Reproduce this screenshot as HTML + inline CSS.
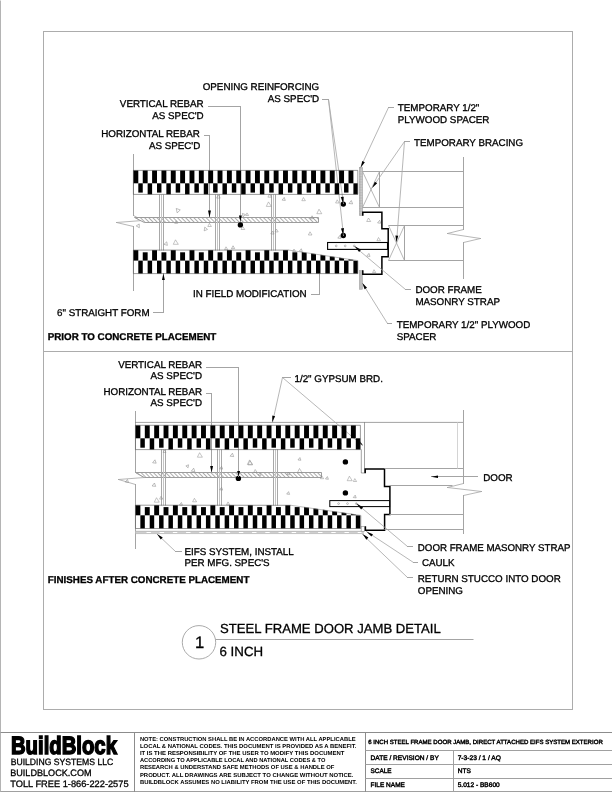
<!DOCTYPE html>
<html lang="en">
<head>
<meta charset="utf-8">
<title>Steel Frame Door Jamb Detail - 6 Inch</title>
<style>
html,body{margin:0;padding:0;background:#fff;}
body{width:612px;height:792px;overflow:hidden;}
svg{display:block;font-family:"Liberation Sans",Arial,Helvetica,sans-serif;fill:#000;}
svg text{fill:#000;stroke:#000;stroke-width:0.3px;text-rendering:geometricPrecision;}
</style>
</head>
<body>
<svg width="612" height="792" viewBox="0 0 612 792" style="filter:grayscale(1)">
<defs>
<pattern id="hatch" width="2.9" height="2.9" patternUnits="userSpaceOnUse" patternTransform="rotate(-45)">
<rect width="2.9" height="2.9" fill="#fff"/>
<line x1="0.5" y1="0" x2="0.5" y2="2.9" stroke="#999" stroke-width="0.8"/>
</pattern>
<pattern id="ply" width="1.6" height="1.6" patternUnits="userSpaceOnUse">
<rect width="1.6" height="1.6" fill="#d4d4d4"/>
<path d="M0 0H1.6M0 0V1.6" stroke="#999" stroke-width="0.5"/>
</pattern>

<clipPath id="tapU"><polygon points="133,249 288.8,249.9 358,260.4 358,274 133,274"/></clipPath>
<clipPath id="tapL"><polygon points="135,504 291,505.0 361,515.2 361,529 135,529"/></clipPath>
</defs>
<rect x="0" y="0" width="612" height="792" fill="#fff"/>
<line x1="0.50" y1="0.50" x2="0.50" y2="792.50" stroke="#b4b4b4" stroke-width="1.0" />
<g stroke-linecap="square">
<line x1="43.50" y1="31.50" x2="572.50" y2="31.50" stroke="#acacac" stroke-width="1.0" />
<line x1="572.50" y1="31.50" x2="572.50" y2="709.50" stroke="#acacac" stroke-width="1.0" />
<line x1="572.50" y1="709.50" x2="43.50" y2="709.50" stroke="#acacac" stroke-width="1.0" />
<line x1="43.50" y1="709.50" x2="43.50" y2="31.50" stroke="#acacac" stroke-width="1.0" />
</g>
<line x1="43.50" y1="351.50" x2="572.50" y2="351.50" stroke="#acacac" stroke-width="1.0" />
<line x1="0.50" y1="732.50" x2="612.50" y2="732.50" stroke="#8c8c8c" stroke-width="1.0" />
<line x1="0.50" y1="791.50" x2="612.50" y2="791.50" stroke="#a0a0a0" stroke-width="1.0" />
<line x1="134.50" y1="732.50" x2="134.50" y2="792.50" stroke="#8c8c8c" stroke-width="1.0" />
<line x1="365.50" y1="732.50" x2="365.50" y2="792.50" stroke="#8c8c8c" stroke-width="1.0" />
<line x1="365.50" y1="750.50" x2="612.50" y2="750.50" stroke="#a0a0a0" stroke-width="1.0" />
<line x1="365.50" y1="764.50" x2="612.50" y2="764.50" stroke="#a0a0a0" stroke-width="1.0" />
<line x1="365.50" y1="778.50" x2="612.50" y2="778.50" stroke="#a0a0a0" stroke-width="1.0" />
<line x1="453.50" y1="750.50" x2="453.50" y2="792.50" stroke="#a0a0a0" stroke-width="1.0" />
<text x="10.95" y="754.45" font-size="25" font-weight="bold" textLength="106.0" lengthAdjust="spacingAndGlyphs" style="fill:#000;stroke:#000;stroke-width:1.5px;stroke-linejoin:miter">BuildBlock</text>
<text x="10.70" y="764.80" font-size="9.2" text-anchor="start" font-weight="normal" textLength="102.60" lengthAdjust="spacingAndGlyphs" >BUILDING SYSTEMS LLC</text>
<text x="10.20" y="776.00" font-size="9.3" text-anchor="start" font-weight="normal" textLength="81.40" lengthAdjust="spacingAndGlyphs" >BUILDBLOCK.COM</text>
<text x="10.20" y="787.00" font-size="9.4" text-anchor="start" font-weight="normal" textLength="118.40" lengthAdjust="spacingAndGlyphs" >TOLL FREE 1-866-222-2575</text>
<text x="139.90" y="741.00" font-size="5.7" text-anchor="start" font-weight="bold" textLength="215.70" lengthAdjust="spacingAndGlyphs" style="stroke:none">NOTE: CONSTRUCTION SHALL BE IN ACCORDANCE WITH ALL APPLICABLE</text>
<text x="139.90" y="748.00" font-size="5.7" text-anchor="start" font-weight="bold" textLength="216.50" lengthAdjust="spacingAndGlyphs" style="stroke:none">LOCAL &amp; NATIONAL CODES. THIS DOCUMENT IS PROVIDED AS A BENEFIT.</text>
<text x="139.90" y="755.00" font-size="5.7" text-anchor="start" font-weight="bold" textLength="204.50" lengthAdjust="spacingAndGlyphs" style="stroke:none">IT IS THE RESPONSIBILITY OF THE USER TO MODIFY THIS DOCUMENT</text>
<text x="139.90" y="762.00" font-size="5.7" text-anchor="start" font-weight="bold" textLength="185.50" lengthAdjust="spacingAndGlyphs" style="stroke:none">ACCORDING TO APPLICABLE LOCAL AND NATIONAL CODES &amp; TO</text>
<text x="139.90" y="769.00" font-size="5.7" text-anchor="start" font-weight="bold" textLength="194.50" lengthAdjust="spacingAndGlyphs" style="stroke:none">RESEARCH &amp; UNDERSTAND SAFE METHODS OF USE &amp; HANDLE OF</text>
<text x="139.90" y="777.00" font-size="5.7" text-anchor="start" font-weight="bold" textLength="213.50" lengthAdjust="spacingAndGlyphs" style="stroke:none">PRODUCT. ALL DRAWINGS ARE SUBJECT TO CHANGE WITHOUT NOTICE.</text>
<text x="139.90" y="784.00" font-size="5.7" text-anchor="start" font-weight="bold" textLength="217.00" lengthAdjust="spacingAndGlyphs" style="stroke:none">BUILDBLOCK ASSUMES NO LIABILITY FROM THE USE OF THIS DOCUMENT.</text>
<text x="368.20" y="744.30" font-size="6.05" text-anchor="start" font-weight="normal" textLength="234.60" lengthAdjust="spacingAndGlyphs" style="stroke-width:0.42px">6 INCH STEEL FRAME DOOR JAMB, DIRECT ATTACHED EIFS SYSTEM EXTERIOR</text>
<text x="370.60" y="759.50" font-size="6.55" text-anchor="start" font-weight="normal" textLength="68.20" lengthAdjust="spacingAndGlyphs" style="stroke-width:0.42px">DATE / REVISION / BY</text>
<text x="370.60" y="773.00" font-size="6.55" text-anchor="start" font-weight="normal" textLength="21.00" lengthAdjust="spacingAndGlyphs" style="stroke-width:0.42px">SCALE</text>
<text x="370.60" y="787.00" font-size="6.55" text-anchor="start" font-weight="normal" textLength="34.30" lengthAdjust="spacingAndGlyphs" style="stroke-width:0.42px">FILE NAME</text>
<text x="457.70" y="759.50" font-size="6.55" text-anchor="start" font-weight="normal" textLength="43.10" lengthAdjust="spacingAndGlyphs" style="stroke-width:0.42px">7-3-23 / 1 / AQ</text>
<text x="457.70" y="773.00" font-size="6.55" text-anchor="start" font-weight="normal" textLength="13.10" lengthAdjust="spacingAndGlyphs" style="stroke-width:0.42px">NTS</text>
<text x="457.70" y="787.00" font-size="6.55" text-anchor="start" font-weight="normal" textLength="42.00" lengthAdjust="spacingAndGlyphs" style="stroke-width:0.42px">5.012 - BB600</text>
<circle cx="199.0" cy="642.3" r="16.7" fill="none" stroke="#a0a0a0" stroke-width="0.9"/>
<text x="199.60" y="647.70" font-size="16.6" text-anchor="middle" font-weight="normal" >1</text>
<text x="220.00" y="632.60" font-size="13.2" text-anchor="start" font-weight="normal" textLength="220.80" lengthAdjust="spacingAndGlyphs" >STEEL FRAME DOOR JAMB DETAIL</text>
<line x1="215.50" y1="639.50" x2="473.50" y2="639.50" stroke="#a4a4a4" stroke-width="1.0" />
<text x="219.50" y="655.50" font-size="13.3" text-anchor="start" font-weight="normal" >6 INCH</text>
<g stroke-linecap="square">
<line x1="133.50" y1="154.50" x2="133.50" y2="215.50" stroke="#a4a4a4" stroke-width="1.0" />
<line x1="133.50" y1="215.50" x2="142.50" y2="220.50" stroke="#a4a4a4" stroke-width="0.8" />
<line x1="142.50" y1="220.50" x2="116.50" y2="222.50" stroke="#a4a4a4" stroke-width="0.8" />
<line x1="116.50" y1="222.50" x2="133.50" y2="226.50" stroke="#a4a4a4" stroke-width="0.8" />
<line x1="133.50" y1="226.50" x2="133.50" y2="290.50" stroke="#a4a4a4" stroke-width="1.0" />
</g>
<polygon points="134.5,217.5 318.5,217.5 318.5,222.5 144.3,222.5" fill="url(#hatch)" stroke="#9c9c9c" stroke-width="1"/>
<line x1="159.50" y1="194.50" x2="159.50" y2="250.50" stroke="#a8a8a8" stroke-width="1.0" />
<line x1="161.50" y1="194.50" x2="161.50" y2="250.50" stroke="#c4c4c4" stroke-width="1.0" />
<line x1="163.50" y1="194.50" x2="163.50" y2="250.50" stroke="#a8a8a8" stroke-width="1.0" />
<line x1="215.50" y1="194.50" x2="215.50" y2="250.50" stroke="#a8a8a8" stroke-width="1.0" />
<line x1="217.50" y1="194.50" x2="217.50" y2="250.50" stroke="#c4c4c4" stroke-width="1.0" />
<line x1="219.50" y1="194.50" x2="219.50" y2="250.50" stroke="#a8a8a8" stroke-width="1.0" />
<line x1="271.50" y1="194.50" x2="271.50" y2="250.50" stroke="#a8a8a8" stroke-width="1.0" />
<line x1="273.50" y1="194.50" x2="273.50" y2="250.50" stroke="#c4c4c4" stroke-width="1.0" />
<line x1="275.50" y1="194.50" x2="275.50" y2="250.50" stroke="#a8a8a8" stroke-width="1.0" />
<circle cx="240.4" cy="224.9" r="2.7" fill="#000"/>
<circle cx="343.3" cy="204.1" r="2.7" fill="#000"/>
<circle cx="343.3" cy="235.5" r="2.7" fill="#000"/>
<rect x="359.2" y="167.4" width="3.4" height="48.2" fill="url(#ply)" stroke="#888" stroke-width="0.4"/>
<rect x="359.2" y="270.4" width="3.4" height="19.0" fill="#bdbdbd" stroke="#999" stroke-width="0.4"/>
<line x1="362.50" y1="171.50" x2="463.50" y2="171.50" stroke="#a4a4a4" stroke-width="1.0" />
<line x1="362.50" y1="207.50" x2="463.50" y2="207.50" stroke="#a4a4a4" stroke-width="1.0" />
<line x1="379.50" y1="171.50" x2="379.50" y2="207.50" stroke="#a4a4a4" stroke-width="1.0" />
<line x1="362.50" y1="171.50" x2="379.50" y2="207.50" stroke="#a4a4a4" stroke-width="0.8" />
<line x1="379.50" y1="171.50" x2="362.50" y2="207.50" stroke="#a4a4a4" stroke-width="0.8" />
<line x1="388.50" y1="225.50" x2="463.50" y2="225.50" stroke="#a4a4a4" stroke-width="1.0" />
<line x1="388.50" y1="260.50" x2="463.50" y2="260.50" stroke="#a4a4a4" stroke-width="1.0" />
<line x1="404.50" y1="225.50" x2="404.50" y2="260.50" stroke="#a4a4a4" stroke-width="1.0" />
<line x1="388.50" y1="225.50" x2="404.50" y2="260.50" stroke="#a4a4a4" stroke-width="0.8" />
<line x1="404.50" y1="225.50" x2="388.50" y2="260.50" stroke="#a4a4a4" stroke-width="0.8" />
<g stroke-linecap="square">
<line x1="463.50" y1="157.50" x2="463.50" y2="229.50" stroke="#a4a4a4" stroke-width="1.0" />
<line x1="463.50" y1="229.50" x2="447.50" y2="233.50" stroke="#a4a4a4" stroke-width="0.8" />
<line x1="447.50" y1="233.50" x2="480.50" y2="238.50" stroke="#a4a4a4" stroke-width="0.8" />
<line x1="480.50" y1="238.50" x2="463.50" y2="242.50" stroke="#a4a4a4" stroke-width="0.8" />
<line x1="463.50" y1="242.50" x2="463.50" y2="278.50" stroke="#a4a4a4" stroke-width="1.0" />
</g>
<polyline points="362.80,215.80 362.80,212.20 381.90,212.20 381.90,228.80 388.20,228.80 388.20,256.80 381.90,256.80 381.90,274.30 362.80,274.30 362.80,270.30" fill="none" stroke="#000" stroke-width="1.5" stroke-linejoin="miter"/>
<rect x="327.6" y="242.5" width="59.9" height="6.9" fill="#fff" stroke="#000" stroke-width="1.1"/>
<circle cx="336.2" cy="245.9" r="0.9" fill="none" stroke="#666" stroke-width="0.4"/>
<circle cx="345.2" cy="245.9" r="0.9" fill="none" stroke="#666" stroke-width="0.4"/>
<circle cx="354.2" cy="245.9" r="0.9" fill="none" stroke="#666" stroke-width="0.4"/>
<text x="203.70" y="107.00" font-size="9.8" text-anchor="end" font-weight="normal" >VERTICAL REBAR</text>
<text x="203.70" y="119.00" font-size="9.8" text-anchor="end" font-weight="normal" >AS SPEC'D</text>
<text x="199.80" y="136.50" font-size="9.8" text-anchor="end" font-weight="normal" >HORIZONTAL REBAR</text>
<text x="200.30" y="148.70" font-size="9.8" text-anchor="end" font-weight="normal" >AS SPEC'D</text>
<text x="319.20" y="89.60" font-size="9.8" text-anchor="end" font-weight="normal" >OPENING REINFORCING</text>
<text x="319.20" y="101.90" font-size="9.8" text-anchor="end" font-weight="normal" >AS SPEC'D</text>
<text x="397.80" y="111.40" font-size="9.8" text-anchor="start" font-weight="normal" >TEMPORARY 1/2"</text>
<text x="397.80" y="123.20" font-size="9.8" text-anchor="start" font-weight="normal" >PLYWOOD SPACER</text>
<text x="414.00" y="146.20" font-size="9.8" text-anchor="start" font-weight="normal" >TEMPORARY BRACING</text>
<text x="415.40" y="292.80" font-size="9.8" text-anchor="start" font-weight="normal" >DOOR FRAME</text>
<text x="415.40" y="304.90" font-size="9.8" text-anchor="start" font-weight="normal" >MASONRY STRAP</text>
<text x="396.70" y="327.70" font-size="9.8" text-anchor="start" font-weight="normal" >TEMPORARY 1/2" PLYWOOD</text>
<text x="396.70" y="339.50" font-size="9.8" text-anchor="start" font-weight="normal" >SPACER</text>
<text x="193.00" y="297.40" font-size="9.8" text-anchor="start" font-weight="normal" >IN FIELD MODIFICATION</text>
<text x="57.00" y="316.20" font-size="9.8" text-anchor="start" font-weight="normal" >6" STRAIGHT FORM</text>
<text x="47.70" y="339.90" font-size="9.8" text-anchor="start" font-weight="bold" >PRIOR TO CONCRETE PLACEMENT</text>
<g stroke-linecap="square">
<line x1="208.50" y1="106.50" x2="240.50" y2="106.50" stroke="#a4a4a4" stroke-width="1.0" />
<line x1="240.50" y1="106.50" x2="240.50" y2="221.50" stroke="#a4a4a4" stroke-width="1.0" />
</g>
<polygon points="240.40,221.50 238.95,215.50 241.85,215.50" fill="#000"/>
<g stroke-linecap="square">
<line x1="204.50" y1="135.50" x2="209.50" y2="135.50" stroke="#a4a4a4" stroke-width="1.0" />
<line x1="209.50" y1="135.50" x2="209.50" y2="217.50" stroke="#a4a4a4" stroke-width="1.0" />
</g>
<polygon points="209.50,217.40 208.05,210.60 210.95,210.60" fill="#000"/>
<g stroke-linecap="square">
<line x1="322.50" y1="99.50" x2="328.50" y2="99.50" stroke="#a4a4a4" stroke-width="1.0" />
</g>
<g stroke-linecap="square">
<line x1="328.50" y1="99.50" x2="343.50" y2="203.50" stroke="#a4a4a4" stroke-width="0.8" />
</g>
<polygon points="343.20,203.80 340.76,197.07 343.74,196.66" fill="#000"/>
<g stroke-linecap="square">
<line x1="328.50" y1="99.50" x2="343.50" y2="235.50" stroke="#a4a4a4" stroke-width="0.8" />
</g>
<polygon points="343.20,235.20 340.98,228.40 343.96,228.08" fill="#000"/>
<g stroke-linecap="square">
<line x1="393.50" y1="107.50" x2="388.50" y2="107.50" stroke="#a4a4a4" stroke-width="1.0" />
<line x1="388.50" y1="107.50" x2="360.50" y2="167.50" stroke="#a4a4a4" stroke-width="0.8" />
</g>
<polygon points="360.80,167.50 362.23,161.00 364.86,162.22" fill="#000"/>
<g stroke-linecap="square">
<line x1="409.50" y1="141.50" x2="404.50" y2="141.50" stroke="#a4a4a4" stroke-width="1.0" />
</g>
<g stroke-linecap="square">
<line x1="404.50" y1="141.50" x2="372.50" y2="187.50" stroke="#a4a4a4" stroke-width="0.8" />
</g>
<polygon points="372.30,187.80 374.82,181.63 377.20,183.29" fill="#000"/>
<g stroke-linecap="square">
<line x1="404.50" y1="141.50" x2="396.50" y2="242.50" stroke="#a4a4a4" stroke-width="0.8" />
</g>
<polygon points="396.30,242.00 395.40,235.40 398.29,235.64" fill="#000"/>
<g stroke-linecap="square">
<line x1="410.50" y1="289.50" x2="405.50" y2="289.50" stroke="#a4a4a4" stroke-width="1.0" />
<line x1="405.50" y1="289.50" x2="354.50" y2="246.50" stroke="#a4a4a4" stroke-width="0.8" />
</g>
<polygon points="354.40,246.00 361.08,249.72 359.14,252.00" fill="#000"/>
<g stroke-linecap="square">
<line x1="391.50" y1="323.50" x2="387.50" y2="323.50" stroke="#a4a4a4" stroke-width="1.0" />
<line x1="387.50" y1="323.50" x2="362.50" y2="283.50" stroke="#a4a4a4" stroke-width="0.8" />
</g>
<polygon points="362.40,283.00 367.03,287.79 364.56,289.30" fill="#000"/>
<g stroke-linecap="square">
<line x1="311.50" y1="294.50" x2="319.50" y2="294.50" stroke="#a4a4a4" stroke-width="1.0" />
<line x1="319.50" y1="294.50" x2="319.50" y2="273.50" stroke="#a4a4a4" stroke-width="1.0" />
</g>
<g stroke-linecap="square">
<line x1="153.50" y1="312.50" x2="163.50" y2="312.50" stroke="#a4a4a4" stroke-width="1.0" />
<line x1="163.50" y1="312.50" x2="163.50" y2="273.50" stroke="#a4a4a4" stroke-width="1.0" />
</g>
<polygon points="163.40,273.60 164.85,280.10 161.95,280.10" fill="#000"/>
<polygon points="0,-2.4 2.4,1.4 -1.9,1.4" fill="none" stroke="#8a8a8a" stroke-width="0.5" transform="translate(178.0,210.6) rotate(200)"/>
<polygon points="0,-2.0 2.0,1.2 -1.6,1.2" fill="none" stroke="#8a8a8a" stroke-width="0.5" transform="translate(138.2,225.7) rotate(30)"/>
<polygon points="0,-1.6 1.6,1.0 -1.3,1.0" fill="none" stroke="#8a8a8a" stroke-width="0.5" transform="translate(176.0,222.4) rotate(0)"/>
<polygon points="0,-2.0 2.0,1.2 -1.6,1.2" fill="none" stroke="#8a8a8a" stroke-width="0.5" transform="translate(209.4,225.3) rotate(0)"/>
<polygon points="0,-2.0 2.0,1.2 -1.6,1.2" fill="none" stroke="#8a8a8a" stroke-width="0.5" transform="translate(205.5,229.3) rotate(220)"/>
<polygon points="0,-2.8 2.8,1.7 -2.2,1.7" fill="none" stroke="#8a8a8a" stroke-width="0.5" transform="translate(175.5,242.6) rotate(0)"/>
<polygon points="0,-2.0 2.0,1.2 -1.6,1.2" fill="none" stroke="#8a8a8a" stroke-width="0.5" transform="translate(165.9,244.0) rotate(260)"/>
<polygon points="0,-2.0 2.0,1.2 -1.6,1.2" fill="none" stroke="#8a8a8a" stroke-width="0.5" transform="translate(218.2,196.9) rotate(0)"/>
<polygon points="0,-2.0 2.0,1.2 -1.6,1.2" fill="none" stroke="#8a8a8a" stroke-width="0.5" transform="translate(242.7,228.3) rotate(0)"/>
<polygon points="0,-1.8 1.8,1.1 -1.4,1.1" fill="none" stroke="#8a8a8a" stroke-width="0.5" transform="translate(243.7,215.1) rotate(200)"/>
<polygon points="0,-1.8 1.8,1.1 -1.4,1.1" fill="none" stroke="#8a8a8a" stroke-width="0.5" transform="translate(226.0,248.6) rotate(0)"/>
<polygon points="0,-1.8 1.8,1.1 -1.4,1.1" fill="none" stroke="#8a8a8a" stroke-width="0.5" transform="translate(233.0,247.9) rotate(240)"/>
<polygon points="0,-2.0 2.0,1.2 -1.6,1.2" fill="none" stroke="#8a8a8a" stroke-width="0.5" transform="translate(269.5,196.0) rotate(0)"/>
<polygon points="0,-2.8 2.8,1.7 -2.2,1.7" fill="none" stroke="#8a8a8a" stroke-width="0.5" transform="translate(268.5,204.7) rotate(0)"/>
<polygon points="0,-1.8 1.8,1.1 -1.4,1.1" fill="none" stroke="#8a8a8a" stroke-width="0.5" transform="translate(283.8,199.5) rotate(250)"/>
<polygon points="0,-2.0 2.0,1.2 -1.6,1.2" fill="none" stroke="#8a8a8a" stroke-width="0.5" transform="translate(303.4,199.5) rotate(0)"/>
<polygon points="0,-2.8 2.8,1.7 -2.2,1.7" fill="none" stroke="#8a8a8a" stroke-width="0.5" transform="translate(319.0,212.0) rotate(0)"/>
<polygon points="0,-1.8 1.8,1.1 -1.4,1.1" fill="none" stroke="#8a8a8a" stroke-width="0.5" transform="translate(312.0,217.9) rotate(240)"/>
<polygon points="0,-2.0 2.0,1.2 -1.6,1.2" fill="none" stroke="#8a8a8a" stroke-width="0.5" transform="translate(310.0,233.8) rotate(0)"/>
<polygon points="0,-1.8 1.8,1.1 -1.4,1.1" fill="none" stroke="#8a8a8a" stroke-width="0.5" transform="translate(276.4,230.8) rotate(0)"/>
<polygon points="0,-1.8 1.8,1.1 -1.4,1.1" fill="none" stroke="#8a8a8a" stroke-width="0.5" transform="translate(272.5,233.2) rotate(250)"/>
<polygon points="0,-2.0 2.0,1.2 -1.6,1.2" fill="none" stroke="#8a8a8a" stroke-width="0.5" transform="translate(337.2,201.8) rotate(0)"/>
<polygon points="0,-2.0 2.0,1.2 -1.6,1.2" fill="none" stroke="#8a8a8a" stroke-width="0.5" transform="translate(350.9,202.8) rotate(250)"/>
<polygon points="0,-1.8 1.8,1.1 -1.4,1.1" fill="none" stroke="#8a8a8a" stroke-width="0.5" transform="translate(339.5,237.5) rotate(250)"/>
<polygon points="0,-1.6 1.6,1.0 -1.3,1.0" fill="none" stroke="#8a8a8a" stroke-width="0.5" transform="translate(247.0,214.5) rotate(0)"/>
<polygon points="0,-1.6 1.6,1.0 -1.3,1.0" fill="none" stroke="#8a8a8a" stroke-width="0.5" transform="translate(294.0,250.6) rotate(0)"/>
<polygon points="0,-1.6 1.6,1.0 -1.3,1.0" fill="none" stroke="#8a8a8a" stroke-width="0.5" transform="translate(300.9,250.6) rotate(250)"/>
<polygon points="0,-2.2 2.2,1.3 -1.8,1.3" fill="none" stroke="#8a8a8a" stroke-width="0.5" transform="translate(368.5,220.2) rotate(0)"/>
<polygon points="0,-1.8 1.8,1.1 -1.4,1.1" fill="none" stroke="#8a8a8a" stroke-width="0.5" transform="translate(379.3,222.3) rotate(250)"/>
<polygon points="0,-2.0 2.0,1.2 -1.6,1.2" fill="none" stroke="#8a8a8a" stroke-width="0.5" transform="translate(378.5,239.5) rotate(0)"/>
<polygon points="0,-1.8 1.8,1.1 -1.4,1.1" fill="none" stroke="#8a8a8a" stroke-width="0.5" transform="translate(368.5,255.5) rotate(250)"/>
<polygon points="0,-1.8 1.8,1.1 -1.4,1.1" fill="none" stroke="#8a8a8a" stroke-width="0.5" transform="translate(374.0,271.5) rotate(0)"/>
<g stroke-linecap="square">
<line x1="135.50" y1="411.50" x2="135.50" y2="472.50" stroke="#a4a4a4" stroke-width="1.0" />
<line x1="135.50" y1="472.50" x2="144.50" y2="477.50" stroke="#a4a4a4" stroke-width="0.8" />
<line x1="144.50" y1="477.50" x2="118.50" y2="479.50" stroke="#a4a4a4" stroke-width="0.8" />
<line x1="118.50" y1="479.50" x2="135.50" y2="484.50" stroke="#a4a4a4" stroke-width="0.8" />
<line x1="135.50" y1="484.50" x2="135.50" y2="548.50" stroke="#a4a4a4" stroke-width="1.0" />
</g>
<polyline points="135.45,422.40 463.40,422.40" fill="none" stroke="#444" stroke-width="0.5" />
<polyline points="364.50,422.40 364.50,473.00" fill="none" stroke="#444" stroke-width="0.5" />
<polyline points="361.30,449.30 361.30,473.00 364.50,473.00" fill="none" stroke="#444" stroke-width="0.5" />
<polygon points="135.5,472.5 321.5,472.5 321.5,477.5 144.3,477.5" fill="url(#hatch)" stroke="#9c9c9c" stroke-width="1"/>
<line x1="161.50" y1="449.50" x2="161.50" y2="505.50" stroke="#a8a8a8" stroke-width="1.0" />
<line x1="163.50" y1="449.50" x2="163.50" y2="505.50" stroke="#c4c4c4" stroke-width="1.0" />
<line x1="165.50" y1="449.50" x2="165.50" y2="505.50" stroke="#a8a8a8" stroke-width="1.0" />
<line x1="217.50" y1="449.50" x2="217.50" y2="505.50" stroke="#a8a8a8" stroke-width="1.0" />
<line x1="219.50" y1="449.50" x2="219.50" y2="505.50" stroke="#c4c4c4" stroke-width="1.0" />
<line x1="221.50" y1="449.50" x2="221.50" y2="505.50" stroke="#a8a8a8" stroke-width="1.0" />
<line x1="273.50" y1="449.50" x2="273.50" y2="505.50" stroke="#a8a8a8" stroke-width="1.0" />
<line x1="275.50" y1="449.50" x2="275.50" y2="505.50" stroke="#c4c4c4" stroke-width="1.0" />
<line x1="277.50" y1="449.50" x2="277.50" y2="505.50" stroke="#a8a8a8" stroke-width="1.0" />
<circle cx="238.4" cy="478.4" r="2.7" fill="#000"/>
<circle cx="345.4" cy="461.9" r="2.7" fill="#000"/>
<circle cx="345.4" cy="492.9" r="2.7" fill="#000"/>
<rect x="135.5" y="531.0" width="228.3" height="2.7" fill="#cfcfcf"/>
<line x1="135.50" y1="531.20" x2="363.80" y2="531.20" stroke="#a0a0a0" stroke-width="0.5" />
<line x1="135.50" y1="533.60" x2="363.80" y2="533.60" stroke="#a8a8a8" stroke-width="0.5" />
<line x1="146.50" y1="532.50" x2="361.50" y2="532.50" stroke="#fff" stroke-width="1.0" stroke-dasharray="4.4 8.8"/>
<rect x="361.2" y="526.4" width="3.3" height="5.0" fill="#fff" stroke="#9c9c9c" stroke-width="0.7"/>
<polyline points="365.20,473.20 365.20,469.00 384.50,469.00 384.50,486.40 389.90,486.40 389.90,514.40 384.60,514.40 384.60,530.30 365.40,530.30 365.40,526.30" fill="none" stroke="#000" stroke-width="1.5" />
<rect x="329.8" y="500.6" width="59.8" height="6.0" fill="#fff" stroke="#000" stroke-width="1.0"/>
<circle cx="338.6" cy="503.6" r="0.9" fill="none" stroke="#666" stroke-width="0.4"/>
<circle cx="347.5" cy="503.6" r="0.9" fill="none" stroke="#666" stroke-width="0.4"/>
<circle cx="356.3" cy="503.6" r="0.9" fill="none" stroke="#666" stroke-width="0.4"/>
<line x1="384.50" y1="468.50" x2="463.50" y2="468.50" stroke="#a4a4a4" stroke-width="1.0" />
<line x1="389.50" y1="485.50" x2="452.50" y2="485.50" stroke="#a4a4a4" stroke-width="1.0" />
<line x1="389.50" y1="514.50" x2="463.50" y2="514.50" stroke="#a4a4a4" stroke-width="1.0" />
<line x1="384.50" y1="529.50" x2="463.50" y2="529.50" stroke="#a4a4a4" stroke-width="1.0" />
<line x1="457.50" y1="422.50" x2="457.50" y2="468.50" stroke="#d4d4d4" stroke-width="1.0" />
<g stroke-linecap="square">
<line x1="463.50" y1="410.50" x2="463.50" y2="483.50" stroke="#a4a4a4" stroke-width="1.0" />
<line x1="463.50" y1="483.50" x2="447.50" y2="487.50" stroke="#a4a4a4" stroke-width="0.8" />
<line x1="447.50" y1="487.50" x2="481.50" y2="491.50" stroke="#a4a4a4" stroke-width="0.8" />
<line x1="481.50" y1="491.50" x2="463.50" y2="495.50" stroke="#a4a4a4" stroke-width="0.8" />
<line x1="463.50" y1="495.50" x2="463.50" y2="533.50" stroke="#a4a4a4" stroke-width="1.0" />
</g>
<text x="202.00" y="367.60" font-size="9.8" text-anchor="end" font-weight="normal" >VERTICAL REBAR</text>
<text x="202.00" y="379.20" font-size="9.8" text-anchor="end" font-weight="normal" >AS SPEC'D</text>
<text x="202.00" y="394.80" font-size="9.8" text-anchor="end" font-weight="normal" >HORIZONTAL REBAR</text>
<text x="202.00" y="405.60" font-size="9.8" text-anchor="end" font-weight="normal" >AS SPEC'D</text>
<text x="294.50" y="381.80" font-size="9.8" text-anchor="start" font-weight="normal" >1/2" GYPSUM BRD.</text>
<text x="483.20" y="480.80" font-size="9.8" text-anchor="start" font-weight="normal" >DOOR</text>
<text x="417.80" y="551.10" font-size="9.8" text-anchor="start" font-weight="normal" textLength="152.60" lengthAdjust="spacingAndGlyphs" >DOOR FRAME MASONRY STRAP</text>
<text x="421.90" y="566.00" font-size="9.8" text-anchor="start" font-weight="normal" >CAULK</text>
<text x="417.80" y="581.70" font-size="9.8" text-anchor="start" font-weight="normal" >RETURN STUCCO INTO DOOR</text>
<text x="417.80" y="594.00" font-size="9.8" text-anchor="start" font-weight="normal" >OPENING</text>
<text x="184.50" y="555.00" font-size="9.8" text-anchor="start" font-weight="normal" >EIFS SYSTEM, INSTALL</text>
<text x="184.50" y="566.20" font-size="9.8" text-anchor="start" font-weight="normal" >PER MFG. SPEC'S</text>
<text x="47.80" y="583.10" font-size="9.8" text-anchor="start" font-weight="bold" >FINISHES AFTER CONCRETE PLACEMENT</text>
<g stroke-linecap="square">
<line x1="206.50" y1="367.50" x2="238.50" y2="367.50" stroke="#a4a4a4" stroke-width="1.0" />
<line x1="238.50" y1="367.50" x2="238.50" y2="476.50" stroke="#a4a4a4" stroke-width="1.0" />
</g>
<polygon points="238.60,476.50 237.15,471.00 240.05,471.00" fill="#000"/>
<g stroke-linecap="square">
<line x1="206.50" y1="393.50" x2="211.50" y2="393.50" stroke="#a4a4a4" stroke-width="1.0" />
<line x1="211.50" y1="393.50" x2="211.50" y2="472.50" stroke="#a4a4a4" stroke-width="1.0" />
</g>
<polygon points="211.60,472.40 210.15,465.90 213.05,465.90" fill="#000"/>
<g stroke-linecap="square">
<line x1="290.50" y1="377.50" x2="282.50" y2="377.50" stroke="#a4a4a4" stroke-width="1.0" />
</g>
<g stroke-linecap="square">
<line x1="282.50" y1="377.50" x2="272.50" y2="422.50" stroke="#a4a4a4" stroke-width="0.8" />
</g>
<polygon points="272.20,422.20 272.29,415.54 275.11,416.21" fill="#000"/>
<g stroke-linecap="square">
<line x1="282.50" y1="377.50" x2="362.50" y2="445.50" stroke="#a4a4a4" stroke-width="0.8" />
</g>
<polygon points="362.90,445.20 357.37,442.45 359.24,440.23" fill="#000"/>
<g stroke-linecap="square">
<line x1="477.50" y1="476.50" x2="431.50" y2="476.50" stroke="#a4a4a4" stroke-width="1.0" />
</g>
<polygon points="431.00,476.80 438.00,475.60 438.00,478.00" fill="#000"/>
<g stroke-linecap="square">
<line x1="412.50" y1="546.50" x2="407.50" y2="546.50" stroke="#a4a4a4" stroke-width="1.0" />
<line x1="407.50" y1="546.50" x2="356.50" y2="503.50" stroke="#a4a4a4" stroke-width="0.8" />
</g>
<polygon points="356.40,503.50 363.07,507.24 361.12,509.52" fill="#000"/>
<g stroke-linecap="square">
<line x1="417.50" y1="562.50" x2="413.50" y2="562.50" stroke="#a4a4a4" stroke-width="1.0" />
<line x1="413.50" y1="562.50" x2="366.50" y2="531.50" stroke="#a4a4a4" stroke-width="0.8" />
</g>
<polygon points="366.70,531.80 372.94,534.13 371.36,536.56" fill="#000"/>
<g stroke-linecap="square">
<line x1="412.50" y1="577.50" x2="407.50" y2="577.50" stroke="#a4a4a4" stroke-width="1.0" />
<line x1="407.50" y1="577.50" x2="362.50" y2="534.50" stroke="#a4a4a4" stroke-width="0.8" />
</g>
<polygon points="362.70,534.10 368.37,537.59 366.35,539.67" fill="#000"/>
<g stroke-linecap="square">
<line x1="181.50" y1="551.50" x2="175.50" y2="551.50" stroke="#a4a4a4" stroke-width="1.0" />
<line x1="175.50" y1="551.50" x2="157.50" y2="534.50" stroke="#a4a4a4" stroke-width="0.8" />
</g>
<polygon points="157.00,534.00 162.74,537.38 160.75,539.50" fill="#000"/>
<polygon points="0,-2.0 2.0,1.2 -1.6,1.2" fill="none" stroke="#8a8a8a" stroke-width="0.5" transform="translate(154.5,462.1) rotate(250)"/>
<polygon points="0,-2.8 2.8,1.7 -2.2,1.7" fill="none" stroke="#8a8a8a" stroke-width="0.5" transform="translate(199.6,455.5) rotate(0)"/>
<polygon points="0,-1.6 1.6,1.0 -1.3,1.0" fill="none" stroke="#8a8a8a" stroke-width="0.5" transform="translate(187.5,466.0) rotate(40)"/>
<polygon points="0,-2.0 2.0,1.2 -1.6,1.2" fill="none" stroke="#8a8a8a" stroke-width="0.5" transform="translate(193.2,470.5) rotate(250)"/>
<polygon points="0,-1.6 1.6,1.0 -1.3,1.0" fill="none" stroke="#8a8a8a" stroke-width="0.5" transform="translate(164.4,451.5) rotate(0)"/>
<polygon points="0,-1.6 1.6,1.0 -1.3,1.0" fill="none" stroke="#8a8a8a" stroke-width="0.5" transform="translate(221.2,468.2) rotate(250)"/>
<polygon points="0,-2.0 2.0,1.2 -1.6,1.2" fill="none" stroke="#8a8a8a" stroke-width="0.5" transform="translate(232.0,455.5) rotate(250)"/>
<polygon points="0,-2.8 2.8,1.7 -2.2,1.7" fill="none" stroke="#8a8a8a" stroke-width="0.5" transform="translate(249.6,462.7) rotate(0)"/>
<polygon points="0,-2.0 2.0,1.2 -1.6,1.2" fill="none" stroke="#8a8a8a" stroke-width="0.5" transform="translate(154.0,485.3) rotate(250)"/>
<polygon points="0,-1.6 1.6,1.0 -1.3,1.0" fill="none" stroke="#8a8a8a" stroke-width="0.5" transform="translate(221.2,489.2) rotate(250)"/>
<polygon points="0,-2.8 2.8,1.7 -2.2,1.7" fill="none" stroke="#8a8a8a" stroke-width="0.5" transform="translate(156.5,500.5) rotate(0)"/>
<polygon points="0,-1.8 1.8,1.1 -1.4,1.1" fill="none" stroke="#8a8a8a" stroke-width="0.5" transform="translate(161.0,498.0) rotate(0)"/>
<polygon points="0,-2.2 2.2,1.3 -1.8,1.3" fill="none" stroke="#8a8a8a" stroke-width="0.5" transform="translate(194.4,500.5) rotate(0)"/>
<polygon points="0,-1.6 1.6,1.0 -1.3,1.0" fill="none" stroke="#8a8a8a" stroke-width="0.5" transform="translate(181.0,504.3) rotate(250)"/>
<polygon points="0,-1.8 1.8,1.1 -1.4,1.1" fill="none" stroke="#8a8a8a" stroke-width="0.5" transform="translate(228.0,503.7) rotate(0)"/>
<polygon points="0,-2.6 2.6,1.6 -2.1,1.6" fill="none" stroke="#8a8a8a" stroke-width="0.5" transform="translate(250.0,463.3) rotate(0)"/>
<polygon points="0,-1.6 1.6,1.0 -1.3,1.0" fill="none" stroke="#8a8a8a" stroke-width="0.5" transform="translate(299.5,459.4) rotate(250)"/>
<polygon points="0,-2.6 2.6,1.6 -2.1,1.6" fill="none" stroke="#8a8a8a" stroke-width="0.5" transform="translate(299.5,471.1) rotate(0)"/>
<polygon points="0,-1.8 1.8,1.1 -1.4,1.1" fill="none" stroke="#8a8a8a" stroke-width="0.5" transform="translate(255.2,471.3) rotate(0)"/>
<polygon points="0,-1.6 1.6,1.0 -1.3,1.0" fill="none" stroke="#8a8a8a" stroke-width="0.5" transform="translate(259.7,474.5) rotate(250)"/>
<polygon points="0,-1.6 1.6,1.0 -1.3,1.0" fill="none" stroke="#8a8a8a" stroke-width="0.5" transform="translate(288.2,473.9) rotate(250)"/>
<polygon points="0,-1.8 1.8,1.1 -1.4,1.1" fill="none" stroke="#8a8a8a" stroke-width="0.5" transform="translate(321.8,477.6) rotate(0)"/>
<polygon points="0,-1.6 1.6,1.0 -1.3,1.0" fill="none" stroke="#8a8a8a" stroke-width="0.5" transform="translate(327.0,478.4) rotate(250)"/>
<polygon points="0,-2.8 2.8,1.7 -2.2,1.7" fill="none" stroke="#8a8a8a" stroke-width="0.5" transform="translate(349.4,479.0) rotate(0)"/>
<polygon points="0,-1.8 1.8,1.1 -1.4,1.1" fill="none" stroke="#8a8a8a" stroke-width="0.5" transform="translate(354.8,480.4) rotate(0)"/>
<polygon points="0,-1.6 1.6,1.0 -1.3,1.0" fill="none" stroke="#8a8a8a" stroke-width="0.5" transform="translate(288.2,493.5) rotate(250)"/>
<polygon points="0,-1.6 1.6,1.0 -1.3,1.0" fill="none" stroke="#8a8a8a" stroke-width="0.5" transform="translate(354.8,497.0) rotate(250)"/>
<polygon points="0,-1.8 1.8,1.1 -1.4,1.1" fill="none" stroke="#8a8a8a" stroke-width="0.5" transform="translate(127.0,481.5) rotate(250)"/>
<g>
<rect x="133.40" y="170.40" width="4.90" height="12.90" fill="#000" stroke="none" stroke-width="0"/>
<rect x="138.30" y="183.30" width="4.45" height="9.30" fill="#000" stroke="none" stroke-width="0"/>
<rect x="142.75" y="170.40" width="4.90" height="12.90" fill="#000" stroke="none" stroke-width="0"/>
<rect x="147.65" y="183.30" width="4.45" height="11.10" fill="#000" stroke="none" stroke-width="0"/>
<rect x="152.10" y="170.40" width="4.90" height="12.90" fill="#000" stroke="none" stroke-width="0"/>
<rect x="157.00" y="183.30" width="4.45" height="9.30" fill="#000" stroke="none" stroke-width="0"/>
<rect x="161.46" y="170.40" width="4.90" height="12.90" fill="#000" stroke="none" stroke-width="0"/>
<rect x="166.36" y="183.30" width="4.45" height="11.10" fill="#000" stroke="none" stroke-width="0"/>
<rect x="170.81" y="170.40" width="4.90" height="12.90" fill="#000" stroke="none" stroke-width="0"/>
<rect x="175.71" y="183.30" width="4.45" height="9.30" fill="#000" stroke="none" stroke-width="0"/>
<rect x="180.16" y="170.40" width="4.90" height="12.90" fill="#000" stroke="none" stroke-width="0"/>
<rect x="185.06" y="183.30" width="4.45" height="11.10" fill="#000" stroke="none" stroke-width="0"/>
<rect x="189.51" y="170.40" width="4.90" height="12.90" fill="#000" stroke="none" stroke-width="0"/>
<rect x="194.41" y="183.30" width="4.45" height="9.30" fill="#000" stroke="none" stroke-width="0"/>
<rect x="198.86" y="170.40" width="4.90" height="12.90" fill="#000" stroke="none" stroke-width="0"/>
<rect x="203.76" y="183.30" width="4.45" height="11.10" fill="#000" stroke="none" stroke-width="0"/>
<rect x="208.22" y="170.40" width="4.90" height="12.90" fill="#000" stroke="none" stroke-width="0"/>
<rect x="213.12" y="183.30" width="4.45" height="9.30" fill="#000" stroke="none" stroke-width="0"/>
<rect x="217.57" y="170.40" width="4.90" height="12.90" fill="#000" stroke="none" stroke-width="0"/>
<rect x="222.47" y="183.30" width="4.45" height="11.10" fill="#000" stroke="none" stroke-width="0"/>
<rect x="226.92" y="170.40" width="4.90" height="12.90" fill="#000" stroke="none" stroke-width="0"/>
<rect x="231.82" y="183.30" width="4.45" height="9.30" fill="#000" stroke="none" stroke-width="0"/>
<rect x="236.27" y="170.40" width="4.90" height="12.90" fill="#000" stroke="none" stroke-width="0"/>
<rect x="241.17" y="183.30" width="4.45" height="11.10" fill="#000" stroke="none" stroke-width="0"/>
<rect x="245.62" y="170.40" width="4.90" height="12.90" fill="#000" stroke="none" stroke-width="0"/>
<rect x="250.52" y="183.30" width="4.45" height="9.30" fill="#000" stroke="none" stroke-width="0"/>
<rect x="254.98" y="170.40" width="4.90" height="12.90" fill="#000" stroke="none" stroke-width="0"/>
<rect x="259.88" y="183.30" width="4.45" height="11.10" fill="#000" stroke="none" stroke-width="0"/>
<rect x="264.33" y="170.40" width="4.90" height="12.90" fill="#000" stroke="none" stroke-width="0"/>
<rect x="269.23" y="183.30" width="4.45" height="9.30" fill="#000" stroke="none" stroke-width="0"/>
<rect x="273.68" y="170.40" width="4.90" height="12.90" fill="#000" stroke="none" stroke-width="0"/>
<rect x="278.58" y="183.30" width="4.45" height="11.10" fill="#000" stroke="none" stroke-width="0"/>
<rect x="283.03" y="170.40" width="4.90" height="12.90" fill="#000" stroke="none" stroke-width="0"/>
<rect x="287.93" y="183.30" width="4.45" height="9.30" fill="#000" stroke="none" stroke-width="0"/>
<rect x="292.38" y="170.40" width="4.90" height="12.90" fill="#000" stroke="none" stroke-width="0"/>
<rect x="297.28" y="183.30" width="4.45" height="11.10" fill="#000" stroke="none" stroke-width="0"/>
<rect x="301.74" y="170.40" width="4.90" height="12.90" fill="#000" stroke="none" stroke-width="0"/>
<rect x="306.64" y="183.30" width="4.45" height="9.30" fill="#000" stroke="none" stroke-width="0"/>
<rect x="311.09" y="170.40" width="4.90" height="12.90" fill="#000" stroke="none" stroke-width="0"/>
<rect x="315.99" y="183.30" width="4.45" height="11.10" fill="#000" stroke="none" stroke-width="0"/>
<rect x="320.44" y="170.40" width="4.90" height="12.90" fill="#000" stroke="none" stroke-width="0"/>
<rect x="325.34" y="183.30" width="4.45" height="9.30" fill="#000" stroke="none" stroke-width="0"/>
<rect x="329.79" y="170.40" width="4.90" height="12.90" fill="#000" stroke="none" stroke-width="0"/>
<rect x="334.69" y="183.30" width="4.45" height="11.10" fill="#000" stroke="none" stroke-width="0"/>
<rect x="339.14" y="170.40" width="4.90" height="12.90" fill="#000" stroke="none" stroke-width="0"/>
<rect x="344.04" y="183.30" width="4.45" height="9.30" fill="#000" stroke="none" stroke-width="0"/>
<rect x="348.50" y="170.40" width="4.90" height="12.90" fill="#000" stroke="none" stroke-width="0"/>
<rect x="353.40" y="183.30" width="4.40" height="11.10" fill="#000" stroke="none" stroke-width="0"/>
</g>
<polyline points="133.40,170.40 357.80,170.40 357.80,194.40 133.40,194.40 133.40,170.40" fill="none" stroke="#555" stroke-width="0.6" />
<g clip-path="url(#tapU)">
<rect x="133.40" y="250.10" width="4.90" height="10.50" fill="#000" stroke="none" stroke-width="0"/>
<rect x="138.30" y="260.60" width="4.45" height="13.00" fill="#000" stroke="none" stroke-width="0"/>
<rect x="142.75" y="252.30" width="4.90" height="8.30" fill="#000" stroke="none" stroke-width="0"/>
<rect x="147.65" y="260.60" width="4.45" height="13.00" fill="#000" stroke="none" stroke-width="0"/>
<rect x="152.10" y="250.10" width="4.90" height="10.50" fill="#000" stroke="none" stroke-width="0"/>
<rect x="157.00" y="260.60" width="4.45" height="13.00" fill="#000" stroke="none" stroke-width="0"/>
<rect x="161.46" y="252.30" width="4.90" height="8.30" fill="#000" stroke="none" stroke-width="0"/>
<rect x="166.36" y="260.60" width="4.45" height="13.00" fill="#000" stroke="none" stroke-width="0"/>
<rect x="170.81" y="250.10" width="4.90" height="10.50" fill="#000" stroke="none" stroke-width="0"/>
<rect x="175.71" y="260.60" width="4.45" height="13.00" fill="#000" stroke="none" stroke-width="0"/>
<rect x="180.16" y="252.30" width="4.90" height="8.30" fill="#000" stroke="none" stroke-width="0"/>
<rect x="185.06" y="260.60" width="4.45" height="13.00" fill="#000" stroke="none" stroke-width="0"/>
<rect x="189.51" y="250.10" width="4.90" height="10.50" fill="#000" stroke="none" stroke-width="0"/>
<rect x="194.41" y="260.60" width="4.45" height="13.00" fill="#000" stroke="none" stroke-width="0"/>
<rect x="198.86" y="252.30" width="4.90" height="8.30" fill="#000" stroke="none" stroke-width="0"/>
<rect x="203.76" y="260.60" width="4.45" height="13.00" fill="#000" stroke="none" stroke-width="0"/>
<rect x="208.22" y="250.10" width="4.90" height="10.50" fill="#000" stroke="none" stroke-width="0"/>
<rect x="213.12" y="260.60" width="4.45" height="13.00" fill="#000" stroke="none" stroke-width="0"/>
<rect x="217.57" y="252.30" width="4.90" height="8.30" fill="#000" stroke="none" stroke-width="0"/>
<rect x="222.47" y="260.60" width="4.45" height="13.00" fill="#000" stroke="none" stroke-width="0"/>
<rect x="226.92" y="250.10" width="4.90" height="10.50" fill="#000" stroke="none" stroke-width="0"/>
<rect x="231.82" y="260.60" width="4.45" height="13.00" fill="#000" stroke="none" stroke-width="0"/>
<rect x="236.27" y="252.30" width="4.90" height="8.30" fill="#000" stroke="none" stroke-width="0"/>
<rect x="241.17" y="260.60" width="4.45" height="13.00" fill="#000" stroke="none" stroke-width="0"/>
<rect x="245.62" y="250.10" width="4.90" height="10.50" fill="#000" stroke="none" stroke-width="0"/>
<rect x="250.52" y="260.60" width="4.45" height="13.00" fill="#000" stroke="none" stroke-width="0"/>
<rect x="254.98" y="252.30" width="4.90" height="8.30" fill="#000" stroke="none" stroke-width="0"/>
<rect x="259.88" y="260.60" width="4.45" height="13.00" fill="#000" stroke="none" stroke-width="0"/>
<rect x="264.33" y="250.10" width="4.90" height="10.50" fill="#000" stroke="none" stroke-width="0"/>
<rect x="269.23" y="260.60" width="4.45" height="13.00" fill="#000" stroke="none" stroke-width="0"/>
<rect x="273.68" y="252.30" width="4.90" height="8.30" fill="#000" stroke="none" stroke-width="0"/>
<rect x="278.58" y="260.60" width="4.45" height="13.00" fill="#000" stroke="none" stroke-width="0"/>
<rect x="283.03" y="250.10" width="4.90" height="10.50" fill="#000" stroke="none" stroke-width="0"/>
<rect x="287.93" y="260.60" width="4.45" height="13.00" fill="#000" stroke="none" stroke-width="0"/>
<rect x="292.38" y="252.30" width="4.90" height="8.30" fill="#000" stroke="none" stroke-width="0"/>
<rect x="297.28" y="260.60" width="4.45" height="13.00" fill="#000" stroke="none" stroke-width="0"/>
<rect x="301.74" y="250.10" width="4.90" height="10.50" fill="#000" stroke="none" stroke-width="0"/>
<rect x="306.64" y="260.60" width="4.45" height="13.00" fill="#000" stroke="none" stroke-width="0"/>
<rect x="311.09" y="252.30" width="4.90" height="8.30" fill="#000" stroke="none" stroke-width="0"/>
<rect x="315.99" y="260.60" width="4.45" height="13.00" fill="#000" stroke="none" stroke-width="0"/>
<rect x="320.44" y="250.10" width="4.90" height="10.50" fill="#000" stroke="none" stroke-width="0"/>
<rect x="325.34" y="260.60" width="4.45" height="13.00" fill="#000" stroke="none" stroke-width="0"/>
<rect x="329.79" y="252.30" width="4.90" height="8.30" fill="#000" stroke="none" stroke-width="0"/>
<rect x="334.69" y="260.60" width="4.45" height="13.00" fill="#000" stroke="none" stroke-width="0"/>
<rect x="339.14" y="250.10" width="4.90" height="10.50" fill="#000" stroke="none" stroke-width="0"/>
<rect x="344.04" y="260.60" width="4.45" height="13.00" fill="#000" stroke="none" stroke-width="0"/>
<rect x="348.50" y="252.30" width="4.90" height="8.30" fill="#000" stroke="none" stroke-width="0"/>
<rect x="353.40" y="260.60" width="4.40" height="13.00" fill="#000" stroke="none" stroke-width="0"/>
</g>
<polyline points="357.80,260.60 357.80,273.60 133.40,273.60 133.40,250.10 288.80,250.10" fill="none" stroke="#555" stroke-width="0.6" />
<polyline points="288.80,250.10 357.80,260.60" fill="none" stroke="#909090" stroke-width="0.6" />
<g>
<rect x="135.45" y="425.30" width="4.90" height="13.00" fill="#000" stroke="none" stroke-width="0"/>
<rect x="140.35" y="438.30" width="4.47" height="9.40" fill="#000" stroke="none" stroke-width="0"/>
<rect x="144.82" y="425.30" width="4.90" height="13.00" fill="#000" stroke="none" stroke-width="0"/>
<rect x="149.72" y="438.30" width="4.47" height="11.30" fill="#000" stroke="none" stroke-width="0"/>
<rect x="154.19" y="425.30" width="4.90" height="13.00" fill="#000" stroke="none" stroke-width="0"/>
<rect x="159.09" y="438.30" width="4.47" height="9.40" fill="#000" stroke="none" stroke-width="0"/>
<rect x="163.55" y="425.30" width="4.90" height="13.00" fill="#000" stroke="none" stroke-width="0"/>
<rect x="168.45" y="438.30" width="4.47" height="11.30" fill="#000" stroke="none" stroke-width="0"/>
<rect x="172.92" y="425.30" width="4.90" height="13.00" fill="#000" stroke="none" stroke-width="0"/>
<rect x="177.82" y="438.30" width="4.47" height="9.40" fill="#000" stroke="none" stroke-width="0"/>
<rect x="182.29" y="425.30" width="4.90" height="13.00" fill="#000" stroke="none" stroke-width="0"/>
<rect x="187.19" y="438.30" width="4.47" height="11.30" fill="#000" stroke="none" stroke-width="0"/>
<rect x="191.66" y="425.30" width="4.90" height="13.00" fill="#000" stroke="none" stroke-width="0"/>
<rect x="196.56" y="438.30" width="4.47" height="9.40" fill="#000" stroke="none" stroke-width="0"/>
<rect x="201.03" y="425.30" width="4.90" height="13.00" fill="#000" stroke="none" stroke-width="0"/>
<rect x="205.93" y="438.30" width="4.47" height="11.30" fill="#000" stroke="none" stroke-width="0"/>
<rect x="210.39" y="425.30" width="4.90" height="13.00" fill="#000" stroke="none" stroke-width="0"/>
<rect x="215.29" y="438.30" width="4.47" height="9.40" fill="#000" stroke="none" stroke-width="0"/>
<rect x="219.76" y="425.30" width="4.90" height="13.00" fill="#000" stroke="none" stroke-width="0"/>
<rect x="224.66" y="438.30" width="4.47" height="11.30" fill="#000" stroke="none" stroke-width="0"/>
<rect x="229.13" y="425.30" width="4.90" height="13.00" fill="#000" stroke="none" stroke-width="0"/>
<rect x="234.03" y="438.30" width="4.47" height="9.40" fill="#000" stroke="none" stroke-width="0"/>
<rect x="238.50" y="425.30" width="4.90" height="13.00" fill="#000" stroke="none" stroke-width="0"/>
<rect x="243.40" y="438.30" width="4.47" height="11.30" fill="#000" stroke="none" stroke-width="0"/>
<rect x="247.87" y="425.30" width="4.90" height="13.00" fill="#000" stroke="none" stroke-width="0"/>
<rect x="252.77" y="438.30" width="4.47" height="9.40" fill="#000" stroke="none" stroke-width="0"/>
<rect x="257.23" y="425.30" width="4.90" height="13.00" fill="#000" stroke="none" stroke-width="0"/>
<rect x="262.13" y="438.30" width="4.47" height="11.30" fill="#000" stroke="none" stroke-width="0"/>
<rect x="266.60" y="425.30" width="4.90" height="13.00" fill="#000" stroke="none" stroke-width="0"/>
<rect x="271.50" y="438.30" width="4.47" height="9.40" fill="#000" stroke="none" stroke-width="0"/>
<rect x="275.97" y="425.30" width="4.90" height="13.00" fill="#000" stroke="none" stroke-width="0"/>
<rect x="280.87" y="438.30" width="4.47" height="11.30" fill="#000" stroke="none" stroke-width="0"/>
<rect x="285.34" y="425.30" width="4.90" height="13.00" fill="#000" stroke="none" stroke-width="0"/>
<rect x="290.24" y="438.30" width="4.47" height="9.40" fill="#000" stroke="none" stroke-width="0"/>
<rect x="294.71" y="425.30" width="4.90" height="13.00" fill="#000" stroke="none" stroke-width="0"/>
<rect x="299.61" y="438.30" width="4.47" height="11.30" fill="#000" stroke="none" stroke-width="0"/>
<rect x="304.07" y="425.30" width="4.90" height="13.00" fill="#000" stroke="none" stroke-width="0"/>
<rect x="308.97" y="438.30" width="4.47" height="9.40" fill="#000" stroke="none" stroke-width="0"/>
<rect x="313.44" y="425.30" width="4.90" height="13.00" fill="#000" stroke="none" stroke-width="0"/>
<rect x="318.34" y="438.30" width="4.47" height="11.30" fill="#000" stroke="none" stroke-width="0"/>
<rect x="322.81" y="425.30" width="4.90" height="13.00" fill="#000" stroke="none" stroke-width="0"/>
<rect x="327.71" y="438.30" width="4.47" height="9.40" fill="#000" stroke="none" stroke-width="0"/>
<rect x="332.18" y="425.30" width="4.90" height="13.00" fill="#000" stroke="none" stroke-width="0"/>
<rect x="337.08" y="438.30" width="4.47" height="11.30" fill="#000" stroke="none" stroke-width="0"/>
<rect x="341.55" y="425.30" width="4.90" height="13.00" fill="#000" stroke="none" stroke-width="0"/>
<rect x="346.45" y="438.30" width="4.47" height="9.40" fill="#000" stroke="none" stroke-width="0"/>
<rect x="350.91" y="425.30" width="4.90" height="13.00" fill="#000" stroke="none" stroke-width="0"/>
<rect x="355.81" y="438.30" width="4.47" height="11.30" fill="#000" stroke="none" stroke-width="0"/>
</g>
<polyline points="135.45,425.30 360.40,425.30 360.40,449.60 135.45,449.60 135.45,425.30" fill="none" stroke="#555" stroke-width="0.6" />
<g clip-path="url(#tapL)">
<rect x="135.45" y="505.20" width="4.90" height="10.10" fill="#000" stroke="none" stroke-width="0"/>
<rect x="140.35" y="515.30" width="4.47" height="13.20" fill="#000" stroke="none" stroke-width="0"/>
<rect x="144.82" y="507.10" width="4.90" height="8.20" fill="#000" stroke="none" stroke-width="0"/>
<rect x="149.72" y="515.30" width="4.47" height="13.20" fill="#000" stroke="none" stroke-width="0"/>
<rect x="154.19" y="505.20" width="4.90" height="10.10" fill="#000" stroke="none" stroke-width="0"/>
<rect x="159.09" y="515.30" width="4.47" height="13.20" fill="#000" stroke="none" stroke-width="0"/>
<rect x="163.55" y="507.10" width="4.90" height="8.20" fill="#000" stroke="none" stroke-width="0"/>
<rect x="168.45" y="515.30" width="4.47" height="13.20" fill="#000" stroke="none" stroke-width="0"/>
<rect x="172.92" y="505.20" width="4.90" height="10.10" fill="#000" stroke="none" stroke-width="0"/>
<rect x="177.82" y="515.30" width="4.47" height="13.20" fill="#000" stroke="none" stroke-width="0"/>
<rect x="182.29" y="507.10" width="4.90" height="8.20" fill="#000" stroke="none" stroke-width="0"/>
<rect x="187.19" y="515.30" width="4.47" height="13.20" fill="#000" stroke="none" stroke-width="0"/>
<rect x="191.66" y="505.20" width="4.90" height="10.10" fill="#000" stroke="none" stroke-width="0"/>
<rect x="196.56" y="515.30" width="4.47" height="13.20" fill="#000" stroke="none" stroke-width="0"/>
<rect x="201.03" y="507.10" width="4.90" height="8.20" fill="#000" stroke="none" stroke-width="0"/>
<rect x="205.93" y="515.30" width="4.47" height="13.20" fill="#000" stroke="none" stroke-width="0"/>
<rect x="210.39" y="505.20" width="4.90" height="10.10" fill="#000" stroke="none" stroke-width="0"/>
<rect x="215.29" y="515.30" width="4.47" height="13.20" fill="#000" stroke="none" stroke-width="0"/>
<rect x="219.76" y="507.10" width="4.90" height="8.20" fill="#000" stroke="none" stroke-width="0"/>
<rect x="224.66" y="515.30" width="4.47" height="13.20" fill="#000" stroke="none" stroke-width="0"/>
<rect x="229.13" y="505.20" width="4.90" height="10.10" fill="#000" stroke="none" stroke-width="0"/>
<rect x="234.03" y="515.30" width="4.47" height="13.20" fill="#000" stroke="none" stroke-width="0"/>
<rect x="238.50" y="507.10" width="4.90" height="8.20" fill="#000" stroke="none" stroke-width="0"/>
<rect x="243.40" y="515.30" width="4.47" height="13.20" fill="#000" stroke="none" stroke-width="0"/>
<rect x="247.87" y="505.20" width="4.90" height="10.10" fill="#000" stroke="none" stroke-width="0"/>
<rect x="252.77" y="515.30" width="4.47" height="13.20" fill="#000" stroke="none" stroke-width="0"/>
<rect x="257.23" y="507.10" width="4.90" height="8.20" fill="#000" stroke="none" stroke-width="0"/>
<rect x="262.13" y="515.30" width="4.47" height="13.20" fill="#000" stroke="none" stroke-width="0"/>
<rect x="266.60" y="505.20" width="4.90" height="10.10" fill="#000" stroke="none" stroke-width="0"/>
<rect x="271.50" y="515.30" width="4.47" height="13.20" fill="#000" stroke="none" stroke-width="0"/>
<rect x="275.97" y="507.10" width="4.90" height="8.20" fill="#000" stroke="none" stroke-width="0"/>
<rect x="280.87" y="515.30" width="4.47" height="13.20" fill="#000" stroke="none" stroke-width="0"/>
<rect x="285.34" y="505.20" width="4.90" height="10.10" fill="#000" stroke="none" stroke-width="0"/>
<rect x="290.24" y="515.30" width="4.47" height="13.20" fill="#000" stroke="none" stroke-width="0"/>
<rect x="294.71" y="507.10" width="4.90" height="8.20" fill="#000" stroke="none" stroke-width="0"/>
<rect x="299.61" y="515.30" width="4.47" height="13.20" fill="#000" stroke="none" stroke-width="0"/>
<rect x="304.07" y="505.20" width="4.90" height="10.10" fill="#000" stroke="none" stroke-width="0"/>
<rect x="308.97" y="515.30" width="4.47" height="13.20" fill="#000" stroke="none" stroke-width="0"/>
<rect x="313.44" y="507.10" width="4.90" height="8.20" fill="#000" stroke="none" stroke-width="0"/>
<rect x="318.34" y="515.30" width="4.47" height="13.20" fill="#000" stroke="none" stroke-width="0"/>
<rect x="322.81" y="505.20" width="4.90" height="10.10" fill="#000" stroke="none" stroke-width="0"/>
<rect x="327.71" y="515.30" width="4.47" height="13.20" fill="#000" stroke="none" stroke-width="0"/>
<rect x="332.18" y="507.10" width="4.90" height="8.20" fill="#000" stroke="none" stroke-width="0"/>
<rect x="337.08" y="515.30" width="4.47" height="13.20" fill="#000" stroke="none" stroke-width="0"/>
<rect x="341.55" y="505.20" width="4.90" height="10.10" fill="#000" stroke="none" stroke-width="0"/>
<rect x="346.45" y="515.30" width="4.47" height="13.20" fill="#000" stroke="none" stroke-width="0"/>
<rect x="350.91" y="507.10" width="4.90" height="8.20" fill="#000" stroke="none" stroke-width="0"/>
<rect x="355.81" y="515.30" width="4.47" height="13.20" fill="#000" stroke="none" stroke-width="0"/>
</g>
<polyline points="360.80,515.40 360.70,528.50 135.45,528.50 135.45,505.20 291.00,505.30" fill="none" stroke="#555" stroke-width="0.6" />
<polyline points="291.00,505.30 360.80,515.40" fill="none" stroke="#909090" stroke-width="0.6" />
</svg>
</body>
</html>
